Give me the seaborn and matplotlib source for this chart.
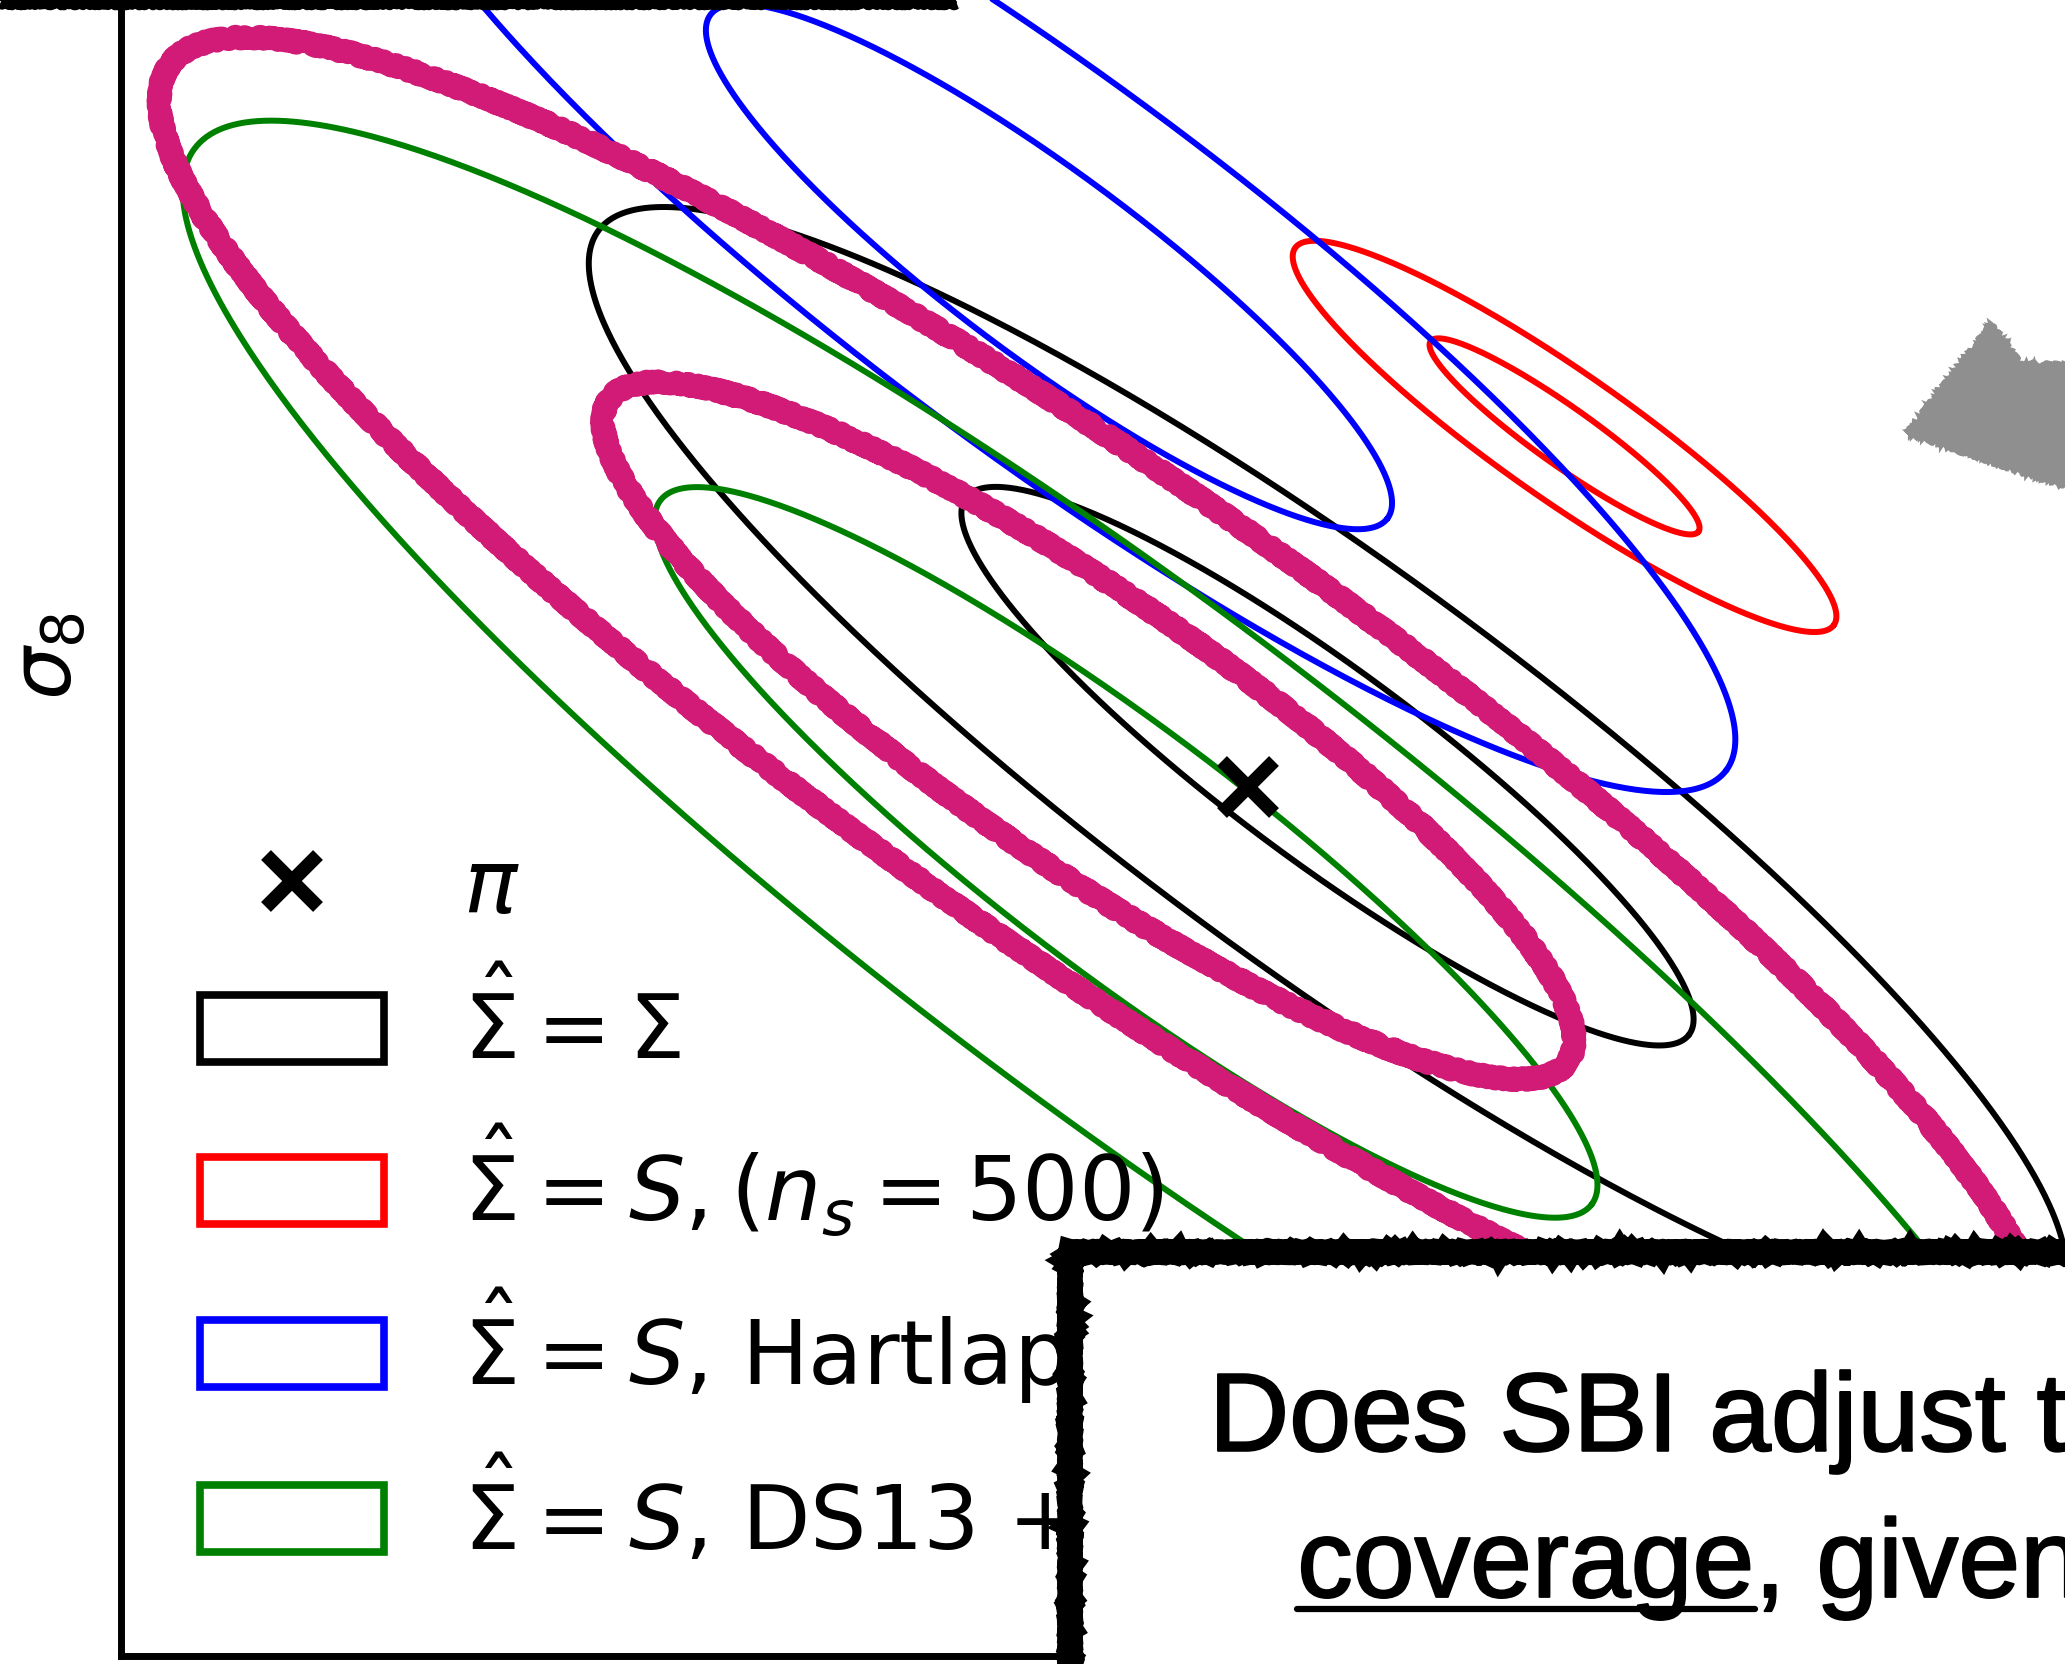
import numpy as np
import matplotlib
matplotlib.use("Agg")
import matplotlib.pyplot as plt
import matplotlib.patheffects as pe
import seaborn as sns
from matplotlib.patches import Patch, Rectangle, Polygon
from matplotlib.lines import Line2D

# ---------------- data (plot units: reference pixels, y pointing up) ----------------
family_names = ["Sigma_true", "S_ns500", "S_Hartlap", "S_DS13", "SBI_sketch"]
legend_labels = [r"$\hat{\Sigma} = \Sigma$",
                 r"$\hat{\Sigma} = S, (n_s = 500)$",
                 r"$\hat{\Sigma} = S$, Hartlap",
                 r"$\hat{\Sigma} = S$, DS13 + Hartlap"]
family_colors = ["black", "red", "blue", "green", "#d21b77"]

# one entry per contour (inner / outer for each family)
contour_family = [0, 0, 1, 1, 2, 2, 3, 3, 4, 4]
contour_cx = [1008.0, 1008.0, 1188.0, 1188.0, 796.5, 796.5, 855.0, 855.0, 826.5, 837.0]
contour_cy = [682.0, 682.0, 932.5, 932.5, 1061.5, 1061.5, 616.5, 616.5, 709.0, 718.0]
contour_a = [342.0, 687.0, 124.8, 249.7, 320.4, 641.0, 443.3, 886.6, 442.3, 865.0]
contour_b = [73.0, 152.0, 22.0, 48.4, 70.8, 141.6, 93.0, 190.0, 102.0, 180.0]
contour_angle = [-36.6, -36.3, -35.4, -35.0, -36.65, -36.65, -37.1, -37.1, -34.6, -35.0]

pi_x = [948.0]
pi_y = [666.0]
pi_label = r"$\pi$"

arrow_x = [1512, 1534, 1590, 1590, 1562, 1448]
arrow_y = [1018, 988, 986, 896, 896, 935]

question_line1 = "Does SBI adjust the"
question_word = "coverage"
question_rest = ", given"

# ---------------- figure ----------------
sns.set_theme(style="white")
plt.rcParams["font.family"] = ["DejaVu Sans"]
plt.rcParams["mathtext.fontset"] = "dejavusans"
plt.rcParams["text.color"] = "black"
plt.rcParams["axes.labelcolor"] = "black"

W, H = 1568.0, 1264.0
fig = plt.figure(figsize=(20.65, 16.64), dpi=100)
ax = fig.add_axes([92 / W, 6 / H, (W - 92) / W, (H - 6) / H])
ax.set_xlim(92, W)
ax.set_ylim(6, H)
ax.set_xticks([])
ax.set_yticks([])
for side in ["top", "right"]:
    ax.spines[side].set_visible(False)
for side in ["left", "bottom"]:
    ax.spines[side].set_color("black")
    ax.spines[side].set_linewidth(5)

t = np.linspace(0, 2 * np.pi, 720)
for i in range(len(contour_family)):
    fam = contour_family[i]
    phi = np.deg2rad(contour_angle[i])
    a, b = contour_a[i], contour_b[i]
    xs = contour_cx[i] + a * np.cos(t) * np.cos(phi) - b * np.sin(t) * np.sin(phi)
    ys = contour_cy[i] + a * np.cos(t) * np.sin(phi) + b * np.sin(t) * np.cos(phi)
    sketch = family_names[fam] == "SBI_sketch"
    sns.lineplot(x=xs, y=ys, sort=False, estimator=None, ax=ax,
                 color=family_colors[fam], linewidth=15 if sketch else 4.3,
                 zorder=4 if sketch else 3)
    if sketch:
        ax.lines[-1].set_sketch_params(scale=2.5, length=6, randomness=8)

ax.plot(pi_x, pi_y, ls="none", marker="x", ms=38, mew=10, color="black", zorder=5)

arrow = Polygon(np.column_stack([arrow_x, arrow_y]), closed=True, facecolor="#8f8f8f",
                edgecolor="#8f8f8f", lw=3, clip_on=False, zorder=4)
arrow.set_sketch_params(scale=2, length=6, randomness=6)
ax.add_patch(arrow)

ax.text(37, H - 498, r"$\sigma_8$", fontsize=60, rotation=90, ha="center", va="center",
        clip_on=False)

handles = [Line2D([], [], ls="none", marker="x", ms=38, mew=10, color="black")]
handles += [Patch(facecolor="white", edgecolor=c, linewidth=5.5) for c in family_colors[:4]]
labels = [pi_label] + legend_labels
leg = ax.legend(handles, labels, loc="upper left", bbox_to_anchor=(0.04065, 0.4895),
                frameon=False, fontsize=64, handlelength=2.07, handleheight=0.79,
                handletextpad=0.89, labelspacing=0.50, borderpad=0, borderaxespad=0)
leg.set_zorder(6)

# top rough border (from the slide above)
top_line = Line2D([0, 727 / W], [1 - 3 / H, 1 - 3 / H], transform=fig.transFigure,
                  color="black", lw=7, solid_capstyle="butt")
top_line.set_sketch_params(scale=1.5, length=6, randomness=4)
fig.add_artist(top_line)

# question box
box = Rectangle((812.5, -200), 1200, (H - 951) + 200, facecolor="white", edgecolor="black",
                lw=17, clip_on=False, zorder=10)
box.set_sketch_params(scale=1.2, length=8, randomness=3)
ax.add_patch(box)

tkw = dict(fontsize=80, family="Liberation Sans", color="black", va="baseline",
           ha="left", zorder=11, clip_on=False,
           path_effects=[pe.withStroke(linewidth=1.5, foreground="black")])
ax.text(918, H - 1102, question_line1, **tkw)
tw = ax.text(985, H - 1213, question_word, **tkw)
fig.canvas.draw()
bb = tw.get_window_extent().transformed(ax.transData.inverted())
ax.text(bb.x1, H - 1213, question_rest, **tkw)
ax.add_line(Line2D([bb.x0, bb.x1], [H - 1222, H - 1222], color="black", lw=4.5,
                   zorder=11, clip_on=False))

fig.savefig("out.png", dpi=100)
